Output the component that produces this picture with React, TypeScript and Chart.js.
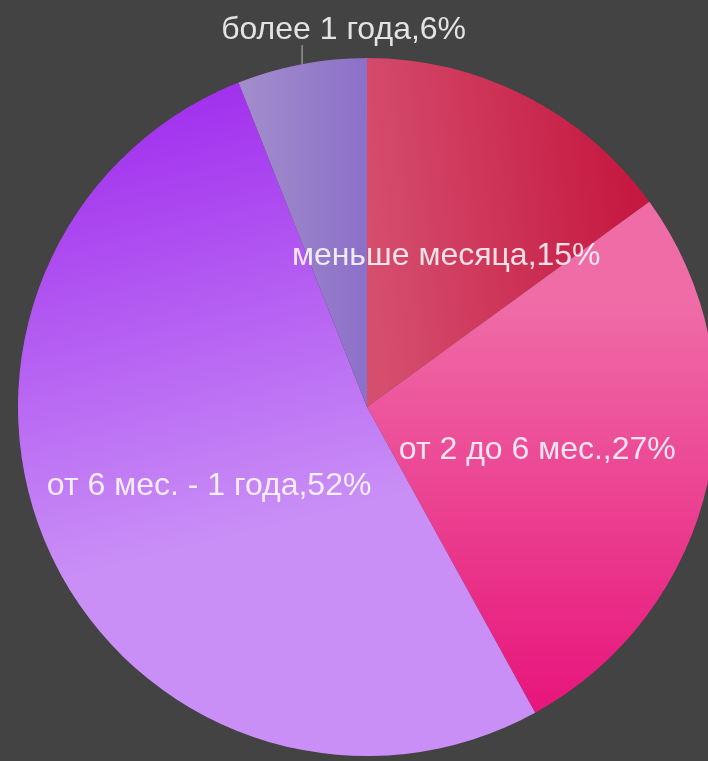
import React, { useEffect, useRef } from "react";
import { Chart, registerables } from "chart.js";

Chart.register(...registerables);

const categories = ["меньше месяца", "от 2 до 6 мес.", "от 6 мес. - 1 года", "более 1 года"];
const values = [15, 27, 52, 6];
const gradientStops = [
  ["#d54e6e", "#c5163f"],
  ["#ef6ca7", "#e7137a"],
  ["#a232ee", "#c98ff6"],
  ["#a28ccb", "#8c70c9"],
];
// gradient direction, in units of radius relative to pie centre
const gradientDirs = [
  [0.0, -0.5, 0.8, -0.6],
  [0.5, -0.3, 0.5, 0.9],
  [-0.4, -0.9, -0.1, 0.3],
  [-0.35, -0.9, 0.0, -0.9],
];

const FONT = '32px "Liberation Sans", Arial, sans-serif';
const TEXT_COLOR = "rgba(255,255,255,0.85)";

const labelPlugin = {
  id: "sliceLabels",
  afterDatasetsDraw(chart: any) {
    const ctx = chart.ctx;
    const meta = chart.getDatasetMeta(0);
    ctx.save();
    ctx.font = FONT;
    ctx.fillStyle = TEXT_COLOR;
    ctx.textAlign = "center";
    ctx.textBaseline = "middle";
    meta.data.forEach((arc: any, i: number) => {
      const { x, y, startAngle, endAngle, outerRadius } = arc.getProps(
        ["x", "y", "startAngle", "endAngle", "outerRadius"],
        true
      );
      const mid = (startAngle + endAngle) / 2;
      const text = `${categories[i]},${values[i]}%`;
      if (values[i] >= 10) {
        const r = outerRadius * 0.5;
        ctx.fillText(text, x + r * Math.cos(mid), y + r * Math.sin(mid) + 5);
      } else {
        const ex = x + outerRadius * Math.cos(mid);
        const ey = y + outerRadius * Math.sin(mid);
        ctx.strokeStyle = "rgba(220,220,220,0.8)";
        ctx.lineWidth = 1;
        ctx.beginPath();
        ctx.moveTo(ex + 0.5, ey);
        ctx.lineTo(ex + 0.5, ey - 19);
        ctx.stroke();
        ctx.fillText(text, ex + 42, ey - 34);
      }
    });
    ctx.restore();
  },
};

export default function App() {
  const ref = useRef<HTMLCanvasElement | null>(null);
  useEffect(() => {
    if (!ref.current) return;
    const chart = new Chart(ref.current, {
      type: "pie",
      data: {
        labels: categories,
        datasets: [
          {
            data: values,
            borderWidth: 0,
            backgroundColor: (c: any) => {
              const ch = c.chart;
              const area = ch.chartArea;
              const i = c.dataIndex;
              if (!area || i === undefined) return gradientStops[i ?? 0][0];
              const cx = (area.left + area.right) / 2;
              const cy = (area.top + area.bottom) / 2;
              const R = Math.min(area.right - area.left, area.bottom - area.top) / 2;
              const d = gradientDirs[i];
              const g = ch.ctx.createLinearGradient(cx + d[0] * R, cy + d[1] * R, cx + d[2] * R, cy + d[3] * R);
              g.addColorStop(0, gradientStops[i][0]);
              g.addColorStop(1, gradientStops[i][1]);
              return g;
            },
          },
        ],
      },
      options: {
        responsive: false,
        animation: false,
        layout: { padding: { top: 58, left: 18, right: 24, bottom: 5 } },
        plugins: {
          legend: { display: false },
          title: { display: false },
          tooltip: { enabled: false },
        },
      },
      plugins: [labelPlugin],
    });
    return () => chart.destroy();
  }, []);
  return (
    <div
      style={{
        position: "absolute",
        left: 0,
        top: 0,
        width: 708,
        height: 761,
        overflow: "hidden",
        background: "#434343",
      }}
    >
      <canvas ref={ref} width={740} height={761} style={{ position: "absolute", left: 0, top: 0 }} />
    </div>
  );
}
